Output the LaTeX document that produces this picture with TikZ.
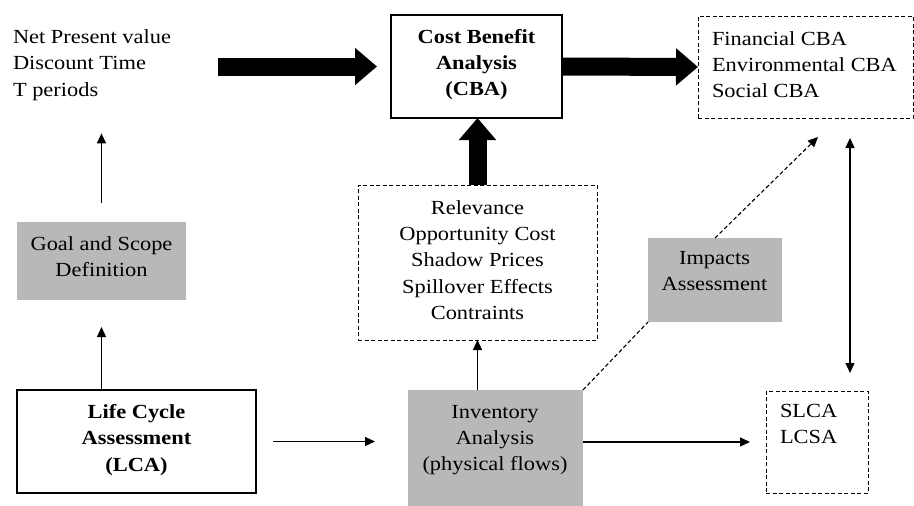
\documentclass[tikz,border=0pt]{standalone}
\usepackage{fontspec}
\setmainfont[FakeStretch=1.12]{Liberation Serif}
\usetikzlibrary{arrows.meta}
\definecolor{boxgray}{RGB}{184,184,184}
\begin{document}
\begin{tikzpicture}[x=1pt,y=-1pt,
  every node/.style={inner sep=0pt, outer sep=0pt},
  txt/.style={font=\fontsize{20}{26.3}\selectfont, align=center},
  txtl/.style={txt, align=left},
  boldtxt/.style={txt, font=\fontsize{20}{26.3}\selectfont\bfseries},
  solidbox/.style={draw=black, line width=1.3pt},
  dashbox/.style={draw=black, line width=1pt, dash pattern=on 4pt off 2.5pt},
  graybox/.style={fill=boxgray},
  tip/.tip={Triangle[length=10pt,width=9pt]},
  thinarrow/.style={draw=black, line width=1.4pt, -tip},
  bigarrow/.style={draw=black, line width=18pt, -{Triangle[length=22pt,width=36pt]}},
  dashlink/.style={draw=black, line width=1.1pt, dash pattern=on 4pt off 2.5pt}
]
\useasboundingbox (0,0) rectangle (914,506);

% boxes
\node[solidbox, minimum width=171pt, minimum height=103pt, anchor=north west] (cba) at (391,15) {};
\node[dashbox, minimum width=215pt, minimum height=102pt, anchor=north west] (fin) at (698,16) {};
\node[dashbox, minimum width=239pt, minimum height=155pt, anchor=north west] (rel) at (358,185) {};
\node[graybox, minimum width=169pt, minimum height=78pt, anchor=north west] (goal) at (17,222) {};
\node[solidbox, minimum width=239pt, minimum height=103pt, anchor=north west] (lca) at (17,390) {};
\node[graybox, minimum width=175pt, minimum height=116pt, anchor=north west] (inv) at (408,390) {};
\node[graybox, minimum width=134pt, minimum height=84pt, anchor=north west] (imp) at (648,238) {};
\node[dashbox, minimum width=102pt, minimum height=102pt, anchor=north west] (slca) at (766,391) {};

% texts
\node[txtl, anchor=west] (npv) at (13,65) {Net Present value\\Discount Time\\T periods};
\node[boldtxt] (cbatxt) at (476.5,64.5) {Cost Benefit\\Analysis\\(CBA)};
\node[txtl, anchor=west] (fintxt) at (712,64.5) {Financial CBA\\Environmental CBA\\Social CBA};
\node[txt] (reltxt) at (477.5,260) {Relevance\\Opportunity Cost\\Shadow Prices\\Spillover Effects\\Contraints};
\node[txt] (goaltxt) at (101.5,257) {Goal and Scope\\Definition};
\node[boldtxt] (lcatxt) at (136.5,440) {Life Cycle\\Assessment\\(LCA)};
\node[txt] (invtxt) at (495,440) {Inventory\\Analysis\\(physical flows)};
\node[txt] (imptxt) at (714.5,271) {Impacts\\Assessment};
\node[txtl, anchor=west] (slcatxt) at (780,424) {SLCA\\LCSA};

% free ends
\coordinate (link) at (850,250);
\coordinate (imptip) at (818,137);

% heavy arrows into and out of the CBA box
\draw[bigarrow, shorten <=47pt, shorten >=14pt] (npv.east |- cba.west) -- (cba.west);
\draw[bigarrow] (cba.east) -- (fin.west);
\draw[bigarrow] (rel.north) -- (rel.north |- cba.south);

% thin arrows
\draw[thinarrow, shorten <=19pt, shorten >=33pt] (goal.north) -- (goal.north |- npv.south);
\draw[thinarrow, shorten >=27pt] (goal.south |- lca.north) -- (goal.south);
\draw[thinarrow, shorten <=17pt, shorten >=33pt] (lca.east) -- (inv.west |- lca.east);
\draw[thinarrow] (rel.south |- inv.north) -- (rel.south);
\draw[thinarrow, shorten >=16pt] (inv.east |- slca.west) -- (slca.west);
\draw[thinarrow, tip-tip, shorten <=20pt, shorten >=18pt] (link |- fin.south) -- (link |- slca.north);

% dashed impact links
\draw[dashlink] (inv.north east) -- (imp.south west);
\draw[dashlink, -tip] (imp.north) -- (imptip);
\end{tikzpicture}
\end{document}
